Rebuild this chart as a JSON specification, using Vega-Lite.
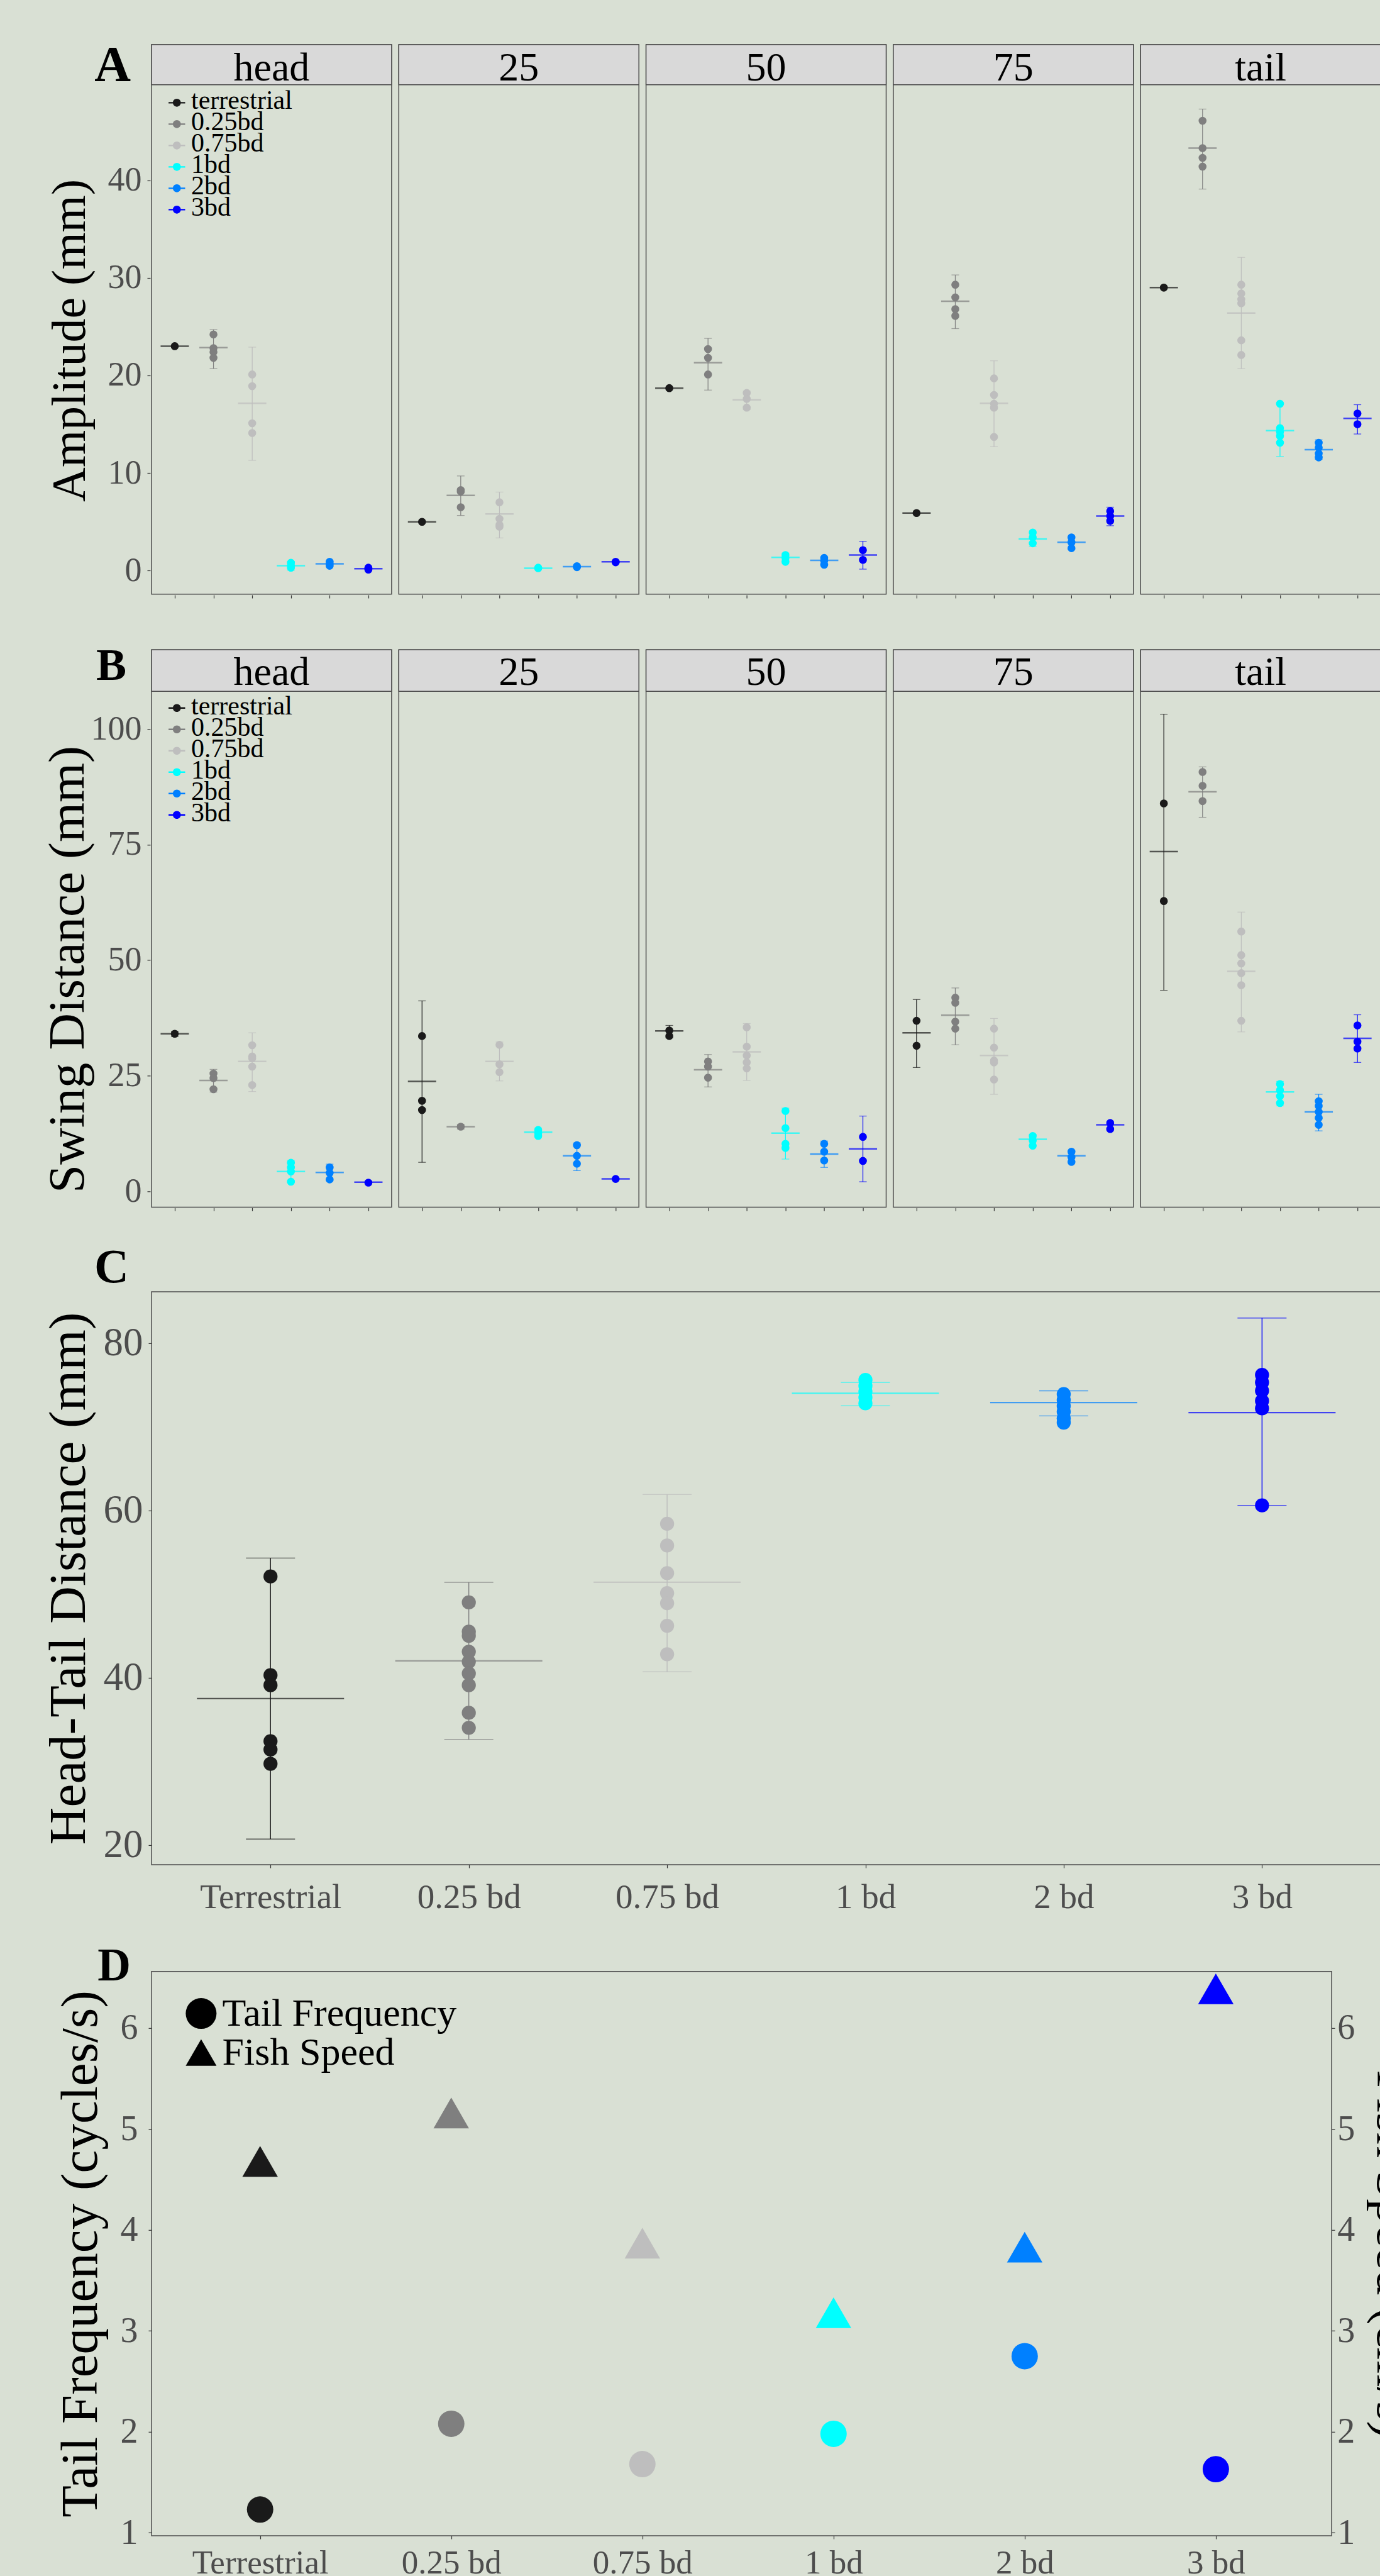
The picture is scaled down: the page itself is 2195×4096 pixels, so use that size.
{
"$schema":"https://vega.github.io/schema/vega-lite/v6.json",
"background":"#D9E0D4",
"padding":{"left":67,"top":64,"right":0,"bottom":5},
"config":{
 "font":"Liberation Serif",
 "view":{"stroke":"#4D4D4D","strokeWidth":1.5},
 "axis":{"grid":false,"domain":false,"tickColor":"#333333","tickSize":5,"tickWidth":1.2,"labelFont":"Liberation Serif","labelColor":"#4D4D4D","titleFont":"Liberation Serif","titleColor":"#000000","titleFontWeight":"normal","labelLimit":1000},
 "legend":{"labelFont":"Liberation Serif","labelColor":"#000000","padding":0,"labelLimit":2000},
 "title":{"font":"Liberation Serif","color":"#000000","fontWeight":"bold"}
},
"datasets":{
"A":[
{"s":"head","g":"terrestrial","v":23.0},
{"s":"head","g":"0.25bd","v":24.2},{"s":"head","g":"0.25bd","v":22.8},{"s":"head","g":"0.25bd","v":22.4},{"s":"head","g":"0.25bd","v":21.8},
{"s":"head","g":"0.75bd","v":20.1},{"s":"head","g":"0.75bd","v":18.9},{"s":"head","g":"0.75bd","v":15.1},{"s":"head","g":"0.75bd","v":14.1},
{"s":"head","g":"1bd","v":0.8},{"s":"head","g":"1bd","v":0.5},{"s":"head","g":"1bd","v":0.3},
{"s":"head","g":"2bd","v":0.9},{"s":"head","g":"2bd","v":0.7},{"s":"head","g":"2bd","v":0.5},
{"s":"head","g":"3bd","v":0.3},{"s":"head","g":"3bd","v":0.2},{"s":"head","g":"3bd","v":0.1},
{"s":"25","g":"terrestrial","v":5.0},
{"s":"25","g":"0.25bd","v":8.25},{"s":"25","g":"0.25bd","v":8.1},{"s":"25","g":"0.25bd","v":6.5},
{"s":"25","g":"0.75bd","v":7.0},{"s":"25","g":"0.75bd","v":5.3},{"s":"25","g":"0.75bd","v":4.7},{"s":"25","g":"0.75bd","v":4.5},
{"s":"25","g":"1bd","v":0.25},{"s":"25","g":"1bd","v":0.3},
{"s":"25","g":"2bd","v":0.45},{"s":"25","g":"2bd","v":0.35},
{"s":"25","g":"3bd","v":0.9},{"s":"25","g":"3bd","v":0.85},
{"s":"50","g":"terrestrial","v":18.7},
{"s":"50","g":"0.25bd","v":22.7},{"s":"50","g":"0.25bd","v":21.8},{"s":"50","g":"0.25bd","v":20.1},
{"s":"50","g":"0.75bd","v":18.2},{"s":"50","g":"0.75bd","v":17.6},{"s":"50","g":"0.75bd","v":16.7},
{"s":"50","g":"1bd","v":1.6},{"s":"50","g":"1bd","v":1.3},{"s":"50","g":"1bd","v":0.9},
{"s":"50","g":"2bd","v":1.3},{"s":"50","g":"2bd","v":1.0},{"s":"50","g":"2bd","v":0.6},
{"s":"50","g":"3bd","v":2.1},{"s":"50","g":"3bd","v":1.1},
{"s":"75","g":"terrestrial","v":5.9},
{"s":"75","g":"0.25bd","v":29.3},{"s":"75","g":"0.25bd","v":28.0},{"s":"75","g":"0.25bd","v":26.8},{"s":"75","g":"0.25bd","v":26.1},
{"s":"75","g":"0.75bd","v":19.7},{"s":"75","g":"0.75bd","v":18.0},{"s":"75","g":"0.75bd","v":17.1},{"s":"75","g":"0.75bd","v":16.7},{"s":"75","g":"0.75bd","v":13.7},
{"s":"75","g":"1bd","v":3.9},{"s":"75","g":"1bd","v":3.4},{"s":"75","g":"1bd","v":2.8},
{"s":"75","g":"2bd","v":3.4},{"s":"75","g":"2bd","v":2.9},{"s":"75","g":"2bd","v":2.3},
{"s":"75","g":"3bd","v":6.1},{"s":"75","g":"3bd","v":5.6},{"s":"75","g":"3bd","v":5.1},
{"s":"tail","g":"terrestrial","v":29.0},
{"s":"tail","g":"0.25bd","v":46.1},{"s":"tail","g":"0.25bd","v":43.3},{"s":"tail","g":"0.25bd","v":42.3},{"s":"tail","g":"0.25bd","v":41.4},
{"s":"tail","g":"0.75bd","v":29.3},{"s":"tail","g":"0.75bd","v":28.4},{"s":"tail","g":"0.75bd","v":27.8},{"s":"tail","g":"0.75bd","v":27.4},{"s":"tail","g":"0.75bd","v":23.6},{"s":"tail","g":"0.75bd","v":22.1},
{"s":"tail","g":"1bd","v":17.1},{"s":"tail","g":"1bd","v":14.6},{"s":"tail","g":"1bd","v":14.2},{"s":"tail","g":"1bd","v":13.8},{"s":"tail","g":"1bd","v":13.1},
{"s":"tail","g":"2bd","v":13.1},{"s":"tail","g":"2bd","v":12.6},{"s":"tail","g":"2bd","v":12.0},{"s":"tail","g":"2bd","v":11.6},
{"s":"tail","g":"3bd","v":16.1},{"s":"tail","g":"3bd","v":15.0},
{"s":"head","g":"terrestrial","m":23.0,"lo":23.0,"hi":23.0},{"s":"head","g":"0.25bd","m":22.85,"lo":20.7,"hi":24.7},{"s":"head","g":"0.75bd","m":17.15,"lo":11.3,"hi":22.9},{"s":"head","g":"1bd","m":0.5,"lo":0.05,"hi":0.95},{"s":"head","g":"2bd","m":0.7,"lo":0.45,"hi":0.95},{"s":"head","g":"3bd","m":0.2,"lo":0.1,"hi":0.3},
{"s":"25","g":"terrestrial","m":5.0,"lo":5.0,"hi":5.0},{"s":"25","g":"0.25bd","m":7.7,"lo":5.65,"hi":9.7},{"s":"25","g":"0.75bd","m":5.8,"lo":3.35,"hi":8.05},{"s":"25","g":"1bd","m":0.25,"lo":0.15,"hi":0.35},{"s":"25","g":"2bd","m":0.4,"lo":0.3,"hi":0.5},{"s":"25","g":"3bd","m":0.9,"lo":0.8,"hi":1.0},
{"s":"50","g":"terrestrial","m":18.7,"lo":18.7,"hi":18.7},{"s":"50","g":"0.25bd","m":21.3,"lo":18.5,"hi":23.8},{"s":"50","g":"0.75bd","m":17.5,"lo":16.5,"hi":18.4},{"s":"50","g":"1bd","m":1.35,"lo":0.9,"hi":1.8},{"s":"50","g":"2bd","m":1.05,"lo":0.6,"hi":1.4},{"s":"50","g":"3bd","m":1.6,"lo":0.15,"hi":3.0},
{"s":"75","g":"terrestrial","m":5.9,"lo":5.9,"hi":5.9},{"s":"75","g":"0.25bd","m":27.6,"lo":24.8,"hi":30.3},{"s":"75","g":"0.75bd","m":17.15,"lo":12.7,"hi":21.5},{"s":"75","g":"1bd","m":3.25,"lo":2.5,"hi":4.05},{"s":"75","g":"2bd","m":2.9,"lo":2.2,"hi":3.5},{"s":"75","g":"3bd","m":5.6,"lo":4.6,"hi":6.5},
{"s":"tail","g":"terrestrial","m":29.0,"lo":29.0,"hi":29.0},{"s":"tail","g":"0.25bd","m":43.3,"lo":39.1,"hi":47.3},{"s":"tail","g":"0.75bd","m":26.4,"lo":20.7,"hi":32.1},{"s":"tail","g":"1bd","m":14.35,"lo":11.7,"hi":17.1},{"s":"tail","g":"2bd","m":12.4,"lo":11.4,"hi":13.4},{"s":"tail","g":"3bd","m":15.6,"lo":14.0,"hi":17.0}
],
"B":[
{"s":"head","g":"terrestrial","v":34.1},
{"s":"head","g":"0.25bd","v":25.5},{"s":"head","g":"0.25bd","v":24.5},{"s":"head","g":"0.25bd","v":22.1},
{"s":"head","g":"0.75bd","v":31.6},{"s":"head","g":"0.75bd","v":29.2},{"s":"head","g":"0.75bd","v":28.8},{"s":"head","g":"0.75bd","v":27.0},{"s":"head","g":"0.75bd","v":23.0},
{"s":"head","g":"1bd","v":6.2},{"s":"head","g":"1bd","v":5.2},{"s":"head","g":"1bd","v":4.3},{"s":"head","g":"1bd","v":2.1},
{"s":"head","g":"2bd","v":5.2},{"s":"head","g":"2bd","v":4.0},{"s":"head","g":"2bd","v":2.6},
{"s":"head","g":"3bd","v":1.9},
{"s":"25","g":"terrestrial","v":33.6},{"s":"25","g":"terrestrial","v":19.6},{"s":"25","g":"terrestrial","v":17.6},
{"s":"25","g":"0.25bd","v":14.0},
{"s":"25","g":"0.75bd","v":31.7},{"s":"25","g":"0.75bd","v":27.5},{"s":"25","g":"0.75bd","v":25.8},
{"s":"25","g":"1bd","v":13.3},{"s":"25","g":"1bd","v":12.6},{"s":"25","g":"1bd","v":12.0},
{"s":"25","g":"2bd","v":10.0},{"s":"25","g":"2bd","v":7.7},{"s":"25","g":"2bd","v":6.0},
{"s":"25","g":"3bd","v":2.7},
{"s":"50","g":"terrestrial","v":34.8},{"s":"50","g":"terrestrial","v":33.6},
{"s":"50","g":"0.25bd","v":28.1},{"s":"50","g":"0.25bd","v":27.0},{"s":"50","g":"0.25bd","v":24.6},
{"s":"50","g":"0.75bd","v":35.5},{"s":"50","g":"0.75bd","v":31.3},{"s":"50","g":"0.75bd","v":29.4},{"s":"50","g":"0.75bd","v":27.9},{"s":"50","g":"0.75bd","v":26.6},
{"s":"50","g":"1bd","v":17.4},{"s":"50","g":"1bd","v":13.7},{"s":"50","g":"1bd","v":10.3},{"s":"50","g":"1bd","v":9.4},
{"s":"50","g":"2bd","v":10.3},{"s":"50","g":"2bd","v":8.6},{"s":"50","g":"2bd","v":6.7},
{"s":"50","g":"3bd","v":11.8},{"s":"50","g":"3bd","v":6.6},
{"s":"75","g":"terrestrial","v":36.9},{"s":"75","g":"terrestrial","v":31.5},
{"s":"75","g":"0.25bd","v":41.9},{"s":"75","g":"0.25bd","v":40.8},{"s":"75","g":"0.25bd","v":36.7},{"s":"75","g":"0.25bd","v":35.2},
{"s":"75","g":"0.75bd","v":35.2},{"s":"75","g":"0.75bd","v":31.1},{"s":"75","g":"0.75bd","v":28.3},{"s":"75","g":"0.75bd","v":27.9},{"s":"75","g":"0.75bd","v":24.2},
{"s":"75","g":"1bd","v":12.0},{"s":"75","g":"1bd","v":11.0},{"s":"75","g":"1bd","v":9.9},
{"s":"75","g":"2bd","v":8.6},{"s":"75","g":"2bd","v":7.4},{"s":"75","g":"2bd","v":6.4},
{"s":"75","g":"3bd","v":14.8},{"s":"75","g":"3bd","v":13.5},
{"s":"tail","g":"terrestrial","v":83.9},{"s":"tail","g":"terrestrial","v":62.8},
{"s":"tail","g":"0.25bd","v":90.7},{"s":"tail","g":"0.25bd","v":87.7},{"s":"tail","g":"0.25bd","v":84.4},
{"s":"tail","g":"0.75bd","v":56.2},{"s":"tail","g":"0.75bd","v":51.1},{"s":"tail","g":"0.75bd","v":49.3},{"s":"tail","g":"0.75bd","v":47.2},{"s":"tail","g":"0.75bd","v":44.6},{"s":"tail","g":"0.75bd","v":36.9},
{"s":"tail","g":"1bd","v":23.2},{"s":"tail","g":"1bd","v":21.9},{"s":"tail","g":"1bd","v":20.6},{"s":"tail","g":"1bd","v":19.1},
{"s":"tail","g":"2bd","v":19.5},{"s":"tail","g":"2bd","v":18.5},{"s":"tail","g":"2bd","v":17.2},{"s":"tail","g":"2bd","v":15.9},{"s":"tail","g":"2bd","v":14.4},
{"s":"tail","g":"3bd","v":35.9},{"s":"tail","g":"3bd","v":32.4},{"s":"tail","g":"3bd","v":30.9},
{"s":"head","g":"terrestrial","m":34.1,"lo":33.5,"hi":34.6},{"s":"head","g":"0.25bd","m":24.0,"lo":21.5,"hi":26.4},{"s":"head","g":"0.75bd","m":28.1,"lo":21.6,"hi":34.3},{"s":"head","g":"1bd","m":4.3,"lo":1.9,"hi":6.7},{"s":"head","g":"2bd","m":4.1,"lo":2.3,"hi":5.9},{"s":"head","g":"3bd","m":2.0,"lo":1.8,"hi":2.2},
{"s":"25","g":"terrestrial","m":23.8,"lo":6.3,"hi":41.2},{"s":"25","g":"0.25bd","m":14.0,"lo":13.5,"hi":14.5},{"s":"25","g":"0.75bd","m":28.1,"lo":23.9,"hi":32.3},{"s":"25","g":"1bd","m":12.8,"lo":11.9,"hi":13.7},{"s":"25","g":"2bd","m":7.7,"lo":4.5,"hi":10.5},{"s":"25","g":"3bd","m":2.7,"lo":2.5,"hi":2.9},
{"s":"50","g":"terrestrial","m":34.7,"lo":33.2,"hi":35.9},{"s":"50","g":"0.25bd","m":26.3,"lo":22.6,"hi":29.6},{"s":"50","g":"0.75bd","m":30.2,"lo":24.0,"hi":36.3},{"s":"50","g":"1bd","m":12.6,"lo":7.0,"hi":18.0},{"s":"50","g":"2bd","m":8.1,"lo":5.2,"hi":10.9},{"s":"50","g":"3bd","m":9.2,"lo":2.1,"hi":16.3},
{"s":"75","g":"terrestrial","m":34.3,"lo":26.8,"hi":41.5},{"s":"75","g":"0.25bd","m":38.1,"lo":31.7,"hi":44.0},{"s":"75","g":"0.75bd","m":29.4,"lo":21.0,"hi":37.4},{"s":"75","g":"1bd","m":11.3,"lo":9.9,"hi":12.3},{"s":"75","g":"2bd","m":7.7,"lo":6.4,"hi":8.6},{"s":"75","g":"3bd","m":14.4,"lo":13.5,"hi":15.2},
{"s":"tail","g":"terrestrial","m":73.5,"lo":43.5,"hi":103.2},{"s":"tail","g":"0.25bd","m":86.4,"lo":80.9,"hi":91.8},{"s":"tail","g":"0.75bd","m":47.6,"lo":34.5,"hi":60.4},{"s":"tail","g":"1bd","m":21.5,"lo":18.5,"hi":23.8},{"s":"tail","g":"2bd","m":17.2,"lo":13.1,"hi":21.0},{"s":"tail","g":"3bd","m":33.1,"lo":27.9,"hi":38.2}
],
"C":[
{"g":"Terrestrial","v":52.1},{"g":"Terrestrial","v":40.3},{"g":"Terrestrial","v":39.1},{"g":"Terrestrial","v":32.4},{"g":"Terrestrial","v":31.4},{"g":"Terrestrial","v":29.7},
{"g":"0.25 bd","v":49.0},{"g":"0.25 bd","v":45.5},{"g":"0.25 bd","v":45.0},{"g":"0.25 bd","v":43.1},{"g":"0.25 bd","v":41.9},{"g":"0.25 bd","v":40.5},{"g":"0.25 bd","v":39.1},{"g":"0.25 bd","v":35.8},{"g":"0.25 bd","v":34.0},
{"g":"0.75 bd","v":58.4},{"g":"0.75 bd","v":55.8},{"g":"0.75 bd","v":52.5},{"g":"0.75 bd","v":50.1},{"g":"0.75 bd","v":48.9},{"g":"0.75 bd","v":46.2},{"g":"0.75 bd","v":42.8},
{"g":"1 bd","v":75.6},{"g":"1 bd","v":74.9},{"g":"1 bd","v":74.2},{"g":"1 bd","v":73.5},{"g":"1 bd","v":72.8},
{"g":"2 bd","v":73.9},{"g":"2 bd","v":73.2},{"g":"2 bd","v":72.5},{"g":"2 bd","v":71.8},{"g":"2 bd","v":71.0},{"g":"2 bd","v":70.5},
{"g":"3 bd","v":76.2},{"g":"3 bd","v":75.3},{"g":"3 bd","v":74.3},{"g":"3 bd","v":73.1},{"g":"3 bd","v":72.2},{"g":"3 bd","v":60.6},
{"g":"Terrestrial","m":37.5,"lo":20.7,"hi":54.3},{"g":"0.25 bd","m":42.0,"lo":32.6,"hi":51.4},{"g":"0.75 bd","m":51.4,"lo":40.7,"hi":61.9},{"g":"1 bd","m":74.0,"lo":72.5,"hi":75.3},{"g":"2 bd","m":72.9,"lo":71.3,"hi":74.3},{"g":"3 bd","m":71.7,"lo":60.6,"hi":83.0}
],
"D":[
{"g":"Terrestrial","f":1.23,"sp":4.68},{"g":"0.25 bd","f":2.08,"sp":5.16},{"g":"0.75 bd","f":1.68,"sp":3.87},{"g":"1 bd","f":1.98,"sp":3.18},{"g":"2 bd","f":2.75,"sp":3.83},{"g":"3 bd","f":1.63,"sp":6.39}
]
},
"spacing":70.35,
"resolve":{"scale":{"x":"independent","y":"independent","color":"independent","shape":"independent"},"legend":{"color":"independent","shape":"independent"}},
"vconcat":[
{
 "data":{"name":"A"},
 "title":{"text":"A","anchor":"start","frame":"group","align":"right","baseline":"alphabetic","offset":0,"dx":-33,"dy":139,"fontSize":80},
 "facet":{"column":{"field":"s","type":"nominal","sort":["head","25","50","75","tail"],"header":null}},
 "spacing":{"column":7.3},
 "spec":{
  "width":381.9,"height":873.7,
  "layer":[
   {"transform":[{"filter":"isValid(datum.m) && datum.g == 'terrestrial'"}],
    "mark":{"type":"rect","fill":"#D9D9D9","stroke":"#4D4D4D","strokeWidth":1.5},
    "encoding":{"y":{"datum":49.79,"type":"quantitative","scale":{"domain":[-2.41,53.9],"nice":false,"zero":false},"axis":{"values":[0,10,20,30,40],"title":"Amplitude (mm)","titleFontSize":76,"titleX":-105,"titleY":470,"titleBaseline":"alphabetic","titleAngle":-90,"titleAlign":"center","labelFontSize":54,"labelPadding":9}},"y2":{"datum":53.9}}},
   {"transform":[{"filter":"isValid(datum.m) && datum.g == 'terrestrial'"}],
    "mark":{"type":"text","fontSize":64,"baseline":"alphabetic","color":"#000000","font":"Liberation Serif"},
    "encoding":{"y":{"datum":50.2,"type":"quantitative","scale":{"domain":[-2.41,53.9],"nice":false,"zero":false},"axis":{"values":[0,10,20,30,40],"title":"Amplitude (mm)","titleFontSize":76,"titleX":-105,"titleY":470,"titleBaseline":"alphabetic","titleAngle":-90,"titleAlign":"center","labelFontSize":54,"labelPadding":9}},"text":{"field":"s","type":"nominal"}}},
   {"transform":[{"filter":"isValid(datum.m)"}],
    "mark":{"type":"rule","strokeWidth":1.2},
    "encoding":{
     "x":{"field":"g","type":"nominal","scale":{"type":"point","domain":["terrestrial","0.25bd","0.75bd","1bd","2bd","3bd"],"padding":0.6},"axis":{"labels":false,"title":null,"ticks":true,"tickSize":5}},
     "y":{"field":"lo","type":"quantitative","scale":{"domain":[-2.41,53.9],"nice":false,"zero":false},"axis":{"values":[0,10,20,30,40],"title":"Amplitude (mm)","titleFontSize":76,"titleX":-105,"titleY":470,"titleBaseline":"alphabetic","titleAngle":-90,"titleAlign":"center","labelFontSize":54,"labelPadding":9}},"y2":{"field":"hi"},
     "color":{"field":"g","type":"nominal","scale":{"domain":["terrestrial","0.25bd","0.75bd","1bd","2bd","3bd"],"range":["#1A1A1A","#7F7F7F","#BEBEBE","#00FFFF","#0080FF","#0000FF"]},
      "legend":{"orient":"none","legendX":19.3,"legendY":81.4,"title":null,"symbolType":"M-1,-0.85L1,-0.85L1,-0.67L-1,-0.67ZM0.48,-0.76A0.48,0.48,0,1,1,-0.48,-0.76A0.48,0.48,0,1,1,0.48,-0.76Z","symbolSize":697,"symbolStrokeWidth":0,"symbolOpacity":1,"labelFontSize":42,"labelBaseline":"alphabetic","rowPadding":-8,"labelOffset":1.7}}}},
   {"transform":[{"filter":"isValid(datum.m)"}],
    "mark":{"type":"tick","orient":"horizontal","size":12,"thickness":1.2},
    "encoding":{
     "x":{"field":"g","type":"nominal","scale":{"type":"point","domain":["terrestrial","0.25bd","0.75bd","1bd","2bd","3bd"],"padding":0.6},"axis":{"labels":false,"title":null,"ticks":true,"tickSize":5}},
     "y":{"field":"lo","type":"quantitative","scale":{"domain":[-2.41,53.9],"nice":false,"zero":false},"axis":{"values":[0,10,20,30,40],"title":"Amplitude (mm)","titleFontSize":76,"titleX":-105,"titleY":470,"titleBaseline":"alphabetic","titleAngle":-90,"titleAlign":"center","labelFontSize":54,"labelPadding":9}},
     "color":{"field":"g","type":"nominal","scale":{"domain":["terrestrial","0.25bd","0.75bd","1bd","2bd","3bd"],"range":["#1A1A1A","#7F7F7F","#BEBEBE","#00FFFF","#0080FF","#0000FF"]},
      "legend":{"orient":"none","legendX":19.3,"legendY":81.4,"title":null,"symbolType":"M-1,-0.85L1,-0.85L1,-0.67L-1,-0.67ZM0.48,-0.76A0.48,0.48,0,1,1,-0.48,-0.76A0.48,0.48,0,1,1,0.48,-0.76Z","symbolSize":697,"symbolStrokeWidth":0,"symbolOpacity":1,"labelFontSize":42,"labelBaseline":"alphabetic","rowPadding":-8,"labelOffset":1.7}}}},
   {"transform":[{"filter":"isValid(datum.m)"}],
    "mark":{"type":"tick","orient":"horizontal","size":12,"thickness":1.2},
    "encoding":{
     "x":{"field":"g","type":"nominal","scale":{"type":"point","domain":["terrestrial","0.25bd","0.75bd","1bd","2bd","3bd"],"padding":0.6},"axis":{"labels":false,"title":null,"ticks":true,"tickSize":5}},
     "y":{"field":"hi","type":"quantitative","scale":{"domain":[-2.41,53.9],"nice":false,"zero":false},"axis":{"values":[0,10,20,30,40],"title":"Amplitude (mm)","titleFontSize":76,"titleX":-105,"titleY":470,"titleBaseline":"alphabetic","titleAngle":-90,"titleAlign":"center","labelFontSize":54,"labelPadding":9}},
     "color":{"field":"g","type":"nominal","scale":{"domain":["terrestrial","0.25bd","0.75bd","1bd","2bd","3bd"],"range":["#1A1A1A","#7F7F7F","#BEBEBE","#00FFFF","#0080FF","#0000FF"]},
      "legend":{"orient":"none","legendX":19.3,"legendY":81.4,"title":null,"symbolType":"M-1,-0.85L1,-0.85L1,-0.67L-1,-0.67ZM0.48,-0.76A0.48,0.48,0,1,1,-0.48,-0.76A0.48,0.48,0,1,1,0.48,-0.76Z","symbolSize":697,"symbolStrokeWidth":0,"symbolOpacity":1,"labelFontSize":42,"labelBaseline":"alphabetic","rowPadding":-8,"labelOffset":1.7}}}},
   {"transform":[{"filter":"isValid(datum.m)"}],
    "mark":{"type":"tick","orient":"horizontal","size":45,"thickness":2.5},
    "encoding":{
     "x":{"field":"g","type":"nominal","scale":{"type":"point","domain":["terrestrial","0.25bd","0.75bd","1bd","2bd","3bd"],"padding":0.6},"axis":{"labels":false,"title":null,"ticks":true,"tickSize":5}},
     "y":{"field":"m","type":"quantitative","scale":{"domain":[-2.41,53.9],"nice":false,"zero":false},"axis":{"values":[0,10,20,30,40],"title":"Amplitude (mm)","titleFontSize":76,"titleX":-105,"titleY":470,"titleBaseline":"alphabetic","titleAngle":-90,"titleAlign":"center","labelFontSize":54,"labelPadding":9}},
     "color":{"field":"g","type":"nominal","scale":{"domain":["terrestrial","0.25bd","0.75bd","1bd","2bd","3bd"],"range":["#1A1A1A","#7F7F7F","#BEBEBE","#00FFFF","#0080FF","#0000FF"]},
      "legend":{"orient":"none","legendX":19.3,"legendY":81.4,"title":null,"symbolType":"M-1,-0.85L1,-0.85L1,-0.67L-1,-0.67ZM0.48,-0.76A0.48,0.48,0,1,1,-0.48,-0.76A0.48,0.48,0,1,1,0.48,-0.76Z","symbolSize":697,"symbolStrokeWidth":0,"symbolOpacity":1,"labelFontSize":42,"labelBaseline":"alphabetic","rowPadding":-8,"labelOffset":1.7}}}},
   {"transform":[{"filter":"isValid(datum.v)"}],
    "mark":{"type":"circle","size":160,"opacity":1},
    "encoding":{
     "x":{"field":"g","type":"nominal","scale":{"type":"point","domain":["terrestrial","0.25bd","0.75bd","1bd","2bd","3bd"],"padding":0.6},"axis":{"labels":false,"title":null,"ticks":true,"tickSize":5}},
     "y":{"field":"v","type":"quantitative","scale":{"domain":[-2.41,53.9],"nice":false,"zero":false},"axis":{"values":[0,10,20,30,40],"title":"Amplitude (mm)","titleFontSize":76,"titleX":-105,"titleY":470,"titleBaseline":"alphabetic","titleAngle":-90,"titleAlign":"center","labelFontSize":54,"labelPadding":9}},
     "color":{"field":"g","type":"nominal","scale":{"domain":["terrestrial","0.25bd","0.75bd","1bd","2bd","3bd"],"range":["#1A1A1A","#7F7F7F","#BEBEBE","#00FFFF","#0080FF","#0000FF"]},
      "legend":{"orient":"none","legendX":19.3,"legendY":81.4,"title":null,"symbolType":"M-1,-0.85L1,-0.85L1,-0.67L-1,-0.67ZM0.48,-0.76A0.48,0.48,0,1,1,-0.48,-0.76A0.48,0.48,0,1,1,0.48,-0.76Z","symbolSize":697,"symbolStrokeWidth":0,"symbolOpacity":1,"labelFontSize":42,"labelBaseline":"alphabetic","rowPadding":-8,"labelOffset":1.7}}}}
  ]
 }
},
{
 "spacing":50.55,
 "resolve":{"scale":{"x":"independent","y":"independent","color":"independent","shape":"independent"},"legend":{"color":"independent","shape":"independent"}},
 "vconcat":[
 {
 "data":{"name":"B"},
 "title":{"text":"B","anchor":"start","frame":"group","align":"right","baseline":"alphabetic","offset":0,"dx":-40,"dy":121,"fontSize":72},
 "facet":{"column":{"field":"s","type":"nominal","sort":["head","25","50","75","tail"],"header":null}},
 "spacing":{"column":7.3},
 "spec":{
  "width":381.9,"height":886.2,
  "layer":[
   {"transform":[{"filter":"isValid(datum.m) && datum.g == 'terrestrial'"}],
    "mark":{"type":"rect","fill":"#D9D9D9","stroke":"#4D4D4D","strokeWidth":1.5},
    "encoding":{"y":{"datum":108.15,"type":"quantitative","scale":{"domain":[-3.41,117.1],"nice":false,"zero":false},"axis":{"values":[0,25,50,75,100],"title":"Swing Distance (mm)","titleFontSize":81,"titleX":-106.6,"titleY":507.6,"titleBaseline":"alphabetic","titleAngle":-90,"titleAlign":"center","labelFontSize":54,"labelPadding":9}},"y2":{"datum":117.1}}},
   {"transform":[{"filter":"isValid(datum.m) && datum.g == 'terrestrial'"}],
    "mark":{"type":"text","fontSize":64,"baseline":"alphabetic","color":"#000000","font":"Liberation Serif"},
    "encoding":{"y":{"datum":109.6,"type":"quantitative","scale":{"domain":[-3.41,117.1],"nice":false,"zero":false},"axis":{"values":[0,25,50,75,100],"title":"Swing Distance (mm)","titleFontSize":81,"titleX":-106.6,"titleY":507.6,"titleBaseline":"alphabetic","titleAngle":-90,"titleAlign":"center","labelFontSize":54,"labelPadding":9}},"text":{"field":"s","type":"nominal"}}},
   {"transform":[{"filter":"isValid(datum.m)"}],
    "mark":{"type":"rule","strokeWidth":1.2},
    "encoding":{
     "x":{"field":"g","type":"nominal","scale":{"type":"point","domain":["terrestrial","0.25bd","0.75bd","1bd","2bd","3bd"],"padding":0.6},"axis":{"labels":false,"title":null,"ticks":true,"tickSize":5}},
     "y":{"field":"lo","type":"quantitative","scale":{"domain":[-3.41,117.1],"nice":false,"zero":false},"axis":{"values":[0,25,50,75,100],"title":"Swing Distance (mm)","titleFontSize":81,"titleX":-106.6,"titleY":507.6,"titleBaseline":"alphabetic","titleAngle":-90,"titleAlign":"center","labelFontSize":54,"labelPadding":9}},"y2":{"field":"hi"},
     "color":{"field":"g","type":"nominal","scale":{"domain":["terrestrial","0.25bd","0.75bd","1bd","2bd","3bd"],"range":["#1A1A1A","#7F7F7F","#BEBEBE","#00FFFF","#0080FF","#0000FF"]},
      "legend":{"orient":"none","legendX":19.3,"legendY":81.4,"title":null,"symbolType":"M-1,-0.85L1,-0.85L1,-0.67L-1,-0.67ZM0.48,-0.76A0.48,0.48,0,1,1,-0.48,-0.76A0.48,0.48,0,1,1,0.48,-0.76Z","symbolSize":697,"symbolStrokeWidth":0,"symbolOpacity":1,"labelFontSize":42,"labelBaseline":"alphabetic","rowPadding":-8,"labelOffset":1.7}}}},
   {"transform":[{"filter":"isValid(datum.m)"}],
    "mark":{"type":"tick","orient":"horizontal","size":12,"thickness":1.2},
    "encoding":{
     "x":{"field":"g","type":"nominal","scale":{"type":"point","domain":["terrestrial","0.25bd","0.75bd","1bd","2bd","3bd"],"padding":0.6},"axis":{"labels":false,"title":null,"ticks":true,"tickSize":5}},
     "y":{"field":"lo","type":"quantitative","scale":{"domain":[-3.41,117.1],"nice":false,"zero":false},"axis":{"values":[0,25,50,75,100],"title":"Swing Distance (mm)","titleFontSize":81,"titleX":-106.6,"titleY":507.6,"titleBaseline":"alphabetic","titleAngle":-90,"titleAlign":"center","labelFontSize":54,"labelPadding":9}},
     "color":{"field":"g","type":"nominal","scale":{"domain":["terrestrial","0.25bd","0.75bd","1bd","2bd","3bd"],"range":["#1A1A1A","#7F7F7F","#BEBEBE","#00FFFF","#0080FF","#0000FF"]},
      "legend":{"orient":"none","legendX":19.3,"legendY":81.4,"title":null,"symbolType":"M-1,-0.85L1,-0.85L1,-0.67L-1,-0.67ZM0.48,-0.76A0.48,0.48,0,1,1,-0.48,-0.76A0.48,0.48,0,1,1,0.48,-0.76Z","symbolSize":697,"symbolStrokeWidth":0,"symbolOpacity":1,"labelFontSize":42,"labelBaseline":"alphabetic","rowPadding":-8,"labelOffset":1.7}}}},
   {"transform":[{"filter":"isValid(datum.m)"}],
    "mark":{"type":"tick","orient":"horizontal","size":12,"thickness":1.2},
    "encoding":{
     "x":{"field":"g","type":"nominal","scale":{"type":"point","domain":["terrestrial","0.25bd","0.75bd","1bd","2bd","3bd"],"padding":0.6},"axis":{"labels":false,"title":null,"ticks":true,"tickSize":5}},
     "y":{"field":"hi","type":"quantitative","scale":{"domain":[-3.41,117.1],"nice":false,"zero":false},"axis":{"values":[0,25,50,75,100],"title":"Swing Distance (mm)","titleFontSize":81,"titleX":-106.6,"titleY":507.6,"titleBaseline":"alphabetic","titleAngle":-90,"titleAlign":"center","labelFontSize":54,"labelPadding":9}},
     "color":{"field":"g","type":"nominal","scale":{"domain":["terrestrial","0.25bd","0.75bd","1bd","2bd","3bd"],"range":["#1A1A1A","#7F7F7F","#BEBEBE","#00FFFF","#0080FF","#0000FF"]},
      "legend":{"orient":"none","legendX":19.3,"legendY":81.4,"title":null,"symbolType":"M-1,-0.85L1,-0.85L1,-0.67L-1,-0.67ZM0.48,-0.76A0.48,0.48,0,1,1,-0.48,-0.76A0.48,0.48,0,1,1,0.48,-0.76Z","symbolSize":697,"symbolStrokeWidth":0,"symbolOpacity":1,"labelFontSize":42,"labelBaseline":"alphabetic","rowPadding":-8,"labelOffset":1.7}}}},
   {"transform":[{"filter":"isValid(datum.m)"}],
    "mark":{"type":"tick","orient":"horizontal","size":45,"thickness":2.5},
    "encoding":{
     "x":{"field":"g","type":"nominal","scale":{"type":"point","domain":["terrestrial","0.25bd","0.75bd","1bd","2bd","3bd"],"padding":0.6},"axis":{"labels":false,"title":null,"ticks":true,"tickSize":5}},
     "y":{"field":"m","type":"quantitative","scale":{"domain":[-3.41,117.1],"nice":false,"zero":false},"axis":{"values":[0,25,50,75,100],"title":"Swing Distance (mm)","titleFontSize":81,"titleX":-106.6,"titleY":507.6,"titleBaseline":"alphabetic","titleAngle":-90,"titleAlign":"center","labelFontSize":54,"labelPadding":9}},
     "color":{"field":"g","type":"nominal","scale":{"domain":["terrestrial","0.25bd","0.75bd","1bd","2bd","3bd"],"range":["#1A1A1A","#7F7F7F","#BEBEBE","#00FFFF","#0080FF","#0000FF"]},
      "legend":{"orient":"none","legendX":19.3,"legendY":81.4,"title":null,"symbolType":"M-1,-0.85L1,-0.85L1,-0.67L-1,-0.67ZM0.48,-0.76A0.48,0.48,0,1,1,-0.48,-0.76A0.48,0.48,0,1,1,0.48,-0.76Z","symbolSize":697,"symbolStrokeWidth":0,"symbolOpacity":1,"labelFontSize":42,"labelBaseline":"alphabetic","rowPadding":-8,"labelOffset":1.7}}}},
   {"transform":[{"filter":"isValid(datum.v)"}],
    "mark":{"type":"circle","size":160,"opacity":1},
    "encoding":{
     "x":{"field":"g","type":"nominal","scale":{"type":"point","domain":["terrestrial","0.25bd","0.75bd","1bd","2bd","3bd"],"padding":0.6},"axis":{"labels":false,"title":null,"ticks":true,"tickSize":5}},
     "y":{"field":"v","type":"quantitative","scale":{"domain":[-3.41,117.1],"nice":false,"zero":false},"axis":{"values":[0,25,50,75,100],"title":"Swing Distance (mm)","titleFontSize":81,"titleX":-106.6,"titleY":507.6,"titleBaseline":"alphabetic","titleAngle":-90,"titleAlign":"center","labelFontSize":54,"labelPadding":9}},
     "color":{"field":"g","type":"nominal","scale":{"domain":["terrestrial","0.25bd","0.75bd","1bd","2bd","3bd"],"range":["#1A1A1A","#7F7F7F","#BEBEBE","#00FFFF","#0080FF","#0000FF"]},
      "legend":{"orient":"none","legendX":19.3,"legendY":81.4,"title":null,"symbolType":"M-1,-0.85L1,-0.85L1,-0.67L-1,-0.67ZM0.48,-0.76A0.48,0.48,0,1,1,-0.48,-0.76A0.48,0.48,0,1,1,0.48,-0.76Z","symbolSize":697,"symbolStrokeWidth":0,"symbolOpacity":1,"labelFontSize":42,"labelBaseline":"alphabetic","rowPadding":-8,"labelOffset":1.7}}}}
  ]
 }
 },
 {
  "spacing":44.9,
  "resolve":{"scale":{"x":"independent","y":"independent","color":"independent","shape":"independent"},"legend":{"color":"independent","shape":"independent"}},
  "vconcat":[
  {
   "data":{"name":"C"},
   "width":1955.6,"height":911.1,
   "title":{"text":"C","anchor":"start","frame":"group","align":"right","baseline":"alphabetic","offset":0,"dx":-36,"dy":61,"fontSize":76},
   "layer":[
    {"transform":[{"filter":"isValid(datum.m)"}],
     "mark":{"type":"rule","strokeWidth":1.4},
     "encoding":{
      "x":{"field":"g","type":"nominal","scale":{"type":"point","domain":["Terrestrial","0.25 bd","0.75 bd","1 bd","2 bd","3 bd"],"padding":0.6},"axis":{"title":null,"labelFontSize":55,"labelBaseline":"alphabetic","labelPadding":63,"labelAngle":0,"tickSize":5}},
      "y":{"field":"lo","type":"quantitative","scale":{"domain":[17.63,86.15],"nice":false,"zero":false},"axis":{"values":[20,40,60,80],"title":"Head-Tail Distance (mm)","titleFontSize":83,"titleX":-107,"titleBaseline":"alphabetic","titleAngle":-90,"titleAlign":"center","labelFontSize":63,"labelPadding":9}},"y2":{"field":"hi"},
      "color":{"field":"g","type":"nominal","scale":{"domain":["Terrestrial","0.25 bd","0.75 bd","1 bd","2 bd","3 bd"],"range":["#1A1A1A","#7F7F7F","#BEBEBE","#00FFFF","#0080FF","#0000FF"]},"legend":null}}},
    {"transform":[{"filter":"isValid(datum.m)"}],
     "mark":{"type":"tick","orient":"horizontal","size":78,"thickness":1.4},
     "encoding":{
      "x":{"field":"g","type":"nominal","scale":{"type":"point","domain":["Terrestrial","0.25 bd","0.75 bd","1 bd","2 bd","3 bd"],"padding":0.6},"axis":{"title":null,"labelFontSize":55,"labelBaseline":"alphabetic","labelPadding":63,"labelAngle":0,"tickSize":5}},
      "y":{"field":"lo","type":"quantitative","scale":{"domain":[17.63,86.15],"nice":false,"zero":false},"axis":{"values":[20,40,60,80],"title":"Head-Tail Distance (mm)","titleFontSize":83,"titleX":-107,"titleBaseline":"alphabetic","titleAngle":-90,"titleAlign":"center","labelFontSize":63,"labelPadding":9}},
      "color":{"field":"g","type":"nominal","scale":{"domain":["Terrestrial","0.25 bd","0.75 bd","1 bd","2 bd","3 bd"],"range":["#1A1A1A","#7F7F7F","#BEBEBE","#00FFFF","#0080FF","#0000FF"]},"legend":null}}},
    {"transform":[{"filter":"isValid(datum.m)"}],
     "mark":{"type":"tick","orient":"horizontal","size":78,"thickness":1.4},
     "encoding":{
      "x":{"field":"g","type":"nominal","scale":{"type":"point","domain":["Terrestrial","0.25 bd","0.75 bd","1 bd","2 bd","3 bd"],"padding":0.6},"axis":{"title":null,"labelFontSize":55,"labelBaseline":"alphabetic","labelPadding":63,"labelAngle":0,"tickSize":5}},
      "y":{"field":"hi","type":"quantitative","scale":{"domain":[17.63,86.15],"nice":false,"zero":false},"axis":{"values":[20,40,60,80],"title":"Head-Tail Distance (mm)","titleFontSize":83,"titleX":-107,"titleBaseline":"alphabetic","titleAngle":-90,"titleAlign":"center","labelFontSize":63,"labelPadding":9}},
      "color":{"field":"g","type":"nominal","scale":{"domain":["Terrestrial","0.25 bd","0.75 bd","1 bd","2 bd","3 bd"],"range":["#1A1A1A","#7F7F7F","#BEBEBE","#00FFFF","#0080FF","#0000FF"]},"legend":null}}},
    {"transform":[{"filter":"isValid(datum.m)"}],
     "mark":{"type":"tick","orient":"horizontal","size":234,"thickness":2.2},
     "encoding":{
      "x":{"field":"g","type":"nominal","scale":{"type":"point","domain":["Terrestrial","0.25 bd","0.75 bd","1 bd","2 bd","3 bd"],"padding":0.6},"axis":{"title":null,"labelFontSize":55,"labelBaseline":"alphabetic","labelPadding":63,"labelAngle":0,"tickSize":5}},
      "y":{"field":"m","type":"quantitative","scale":{"domain":[17.63,86.15],"nice":false,"zero":false},"axis":{"values":[20,40,60,80],"title":"Head-Tail Distance (mm)","titleFontSize":83,"titleX":-107,"titleBaseline":"alphabetic","titleAngle":-90,"titleAlign":"center","labelFontSize":63,"labelPadding":9}},
      "color":{"field":"g","type":"nominal","scale":{"domain":["Terrestrial","0.25 bd","0.75 bd","1 bd","2 bd","3 bd"],"range":["#1A1A1A","#7F7F7F","#BEBEBE","#00FFFF","#0080FF","#0000FF"]},"legend":null}}},
    {"transform":[{"filter":"isValid(datum.v)"}],
     "mark":{"type":"circle","size":500,"opacity":1},
     "encoding":{
      "x":{"field":"g","type":"nominal","scale":{"type":"point","domain":["Terrestrial","0.25 bd","0.75 bd","1 bd","2 bd","3 bd"],"padding":0.6},"axis":{"title":null,"labelFontSize":55,"labelBaseline":"alphabetic","labelPadding":63,"labelAngle":0,"tickSize":5}},
      "y":{"field":"v","type":"quantitative","scale":{"domain":[17.63,86.15],"nice":false,"zero":false},"axis":{"values":[20,40,60,80],"title":"Head-Tail Distance (mm)","titleFontSize":83,"titleX":-107,"titleBaseline":"alphabetic","titleAngle":-90,"titleAlign":"center","labelFontSize":63,"labelPadding":9}},
      "color":{"field":"g","type":"nominal","scale":{"domain":["Terrestrial","0.25 bd","0.75 bd","1 bd","2 bd","3 bd"],"range":["#1A1A1A","#7F7F7F","#BEBEBE","#00FFFF","#0080FF","#0000FF"]},"legend":null}}}
   ]
  },
  {
   "data":{"name":"D"},
   "width":1877,"height":897.2,
   "title":{"text":"D","anchor":"start","frame":"group","align":"right","baseline":"alphabetic","offset":0,"dx":-33,"dy":87,"fontSize":73},
   "resolve":{"scale":{"y":"independent"}},
   "layer":[
    {"mark":{"type":"point","filled":true,"size":1760,"opacity":1},
     "encoding":{
      "x":{"field":"g","type":"nominal","scale":{"type":"point","domain":["Terrestrial","0.25 bd","0.75 bd","1 bd","2 bd","3 bd"],"padding":0.5868,"align":0.484},"axis":{"title":null,"labelFontSize":53,"labelBaseline":"alphabetic","labelPadding":55,"labelAngle":0,"tickSize":5}},
      "y":{"field":"f","type":"quantitative","scale":{"domain":[0.97,6.562],"nice":false,"zero":false},"axis":{"values":[1,2,3,4,5,6],"title":"Tail Frequency (cycles/s)","titleFontSize":83,"titleX":-88,"titleBaseline":"alphabetic","titleAngle":-90,"titleAlign":"center","labelFontSize":56,"labelPadding":17}},
      "color":{"field":"g","type":"nominal","scale":{"domain":["Terrestrial","0.25 bd","0.75 bd","1 bd","2 bd","3 bd"],"range":["#1A1A1A","#7F7F7F","#BEBEBE","#00FFFF","#0080FF","#0000FF"]},"legend":null},
      "shape":{"datum":"Tail Frequency","scale":{"domain":["Tail Frequency","Fish Speed"],"range":["circle","triangle-up"]},
       "legend":{"orient":"none","legendX":47.9,"legendY":35.8,"title":null,"symbolSize":2400,"symbolFillColor":"#000000","symbolStrokeWidth":0,"symbolOpacity":1,"labelFontSize":62,"rowPadding":0,"labelOffset":2.7,"labelLimit":2000}}}},
    {"mark":{"type":"point","filled":true,"size":3181,"opacity":1},
     "encoding":{
      "x":{"field":"g","type":"nominal","scale":{"type":"point","domain":["Terrestrial","0.25 bd","0.75 bd","1 bd","2 bd","3 bd"],"padding":0.5868,"align":0.484},"axis":{"title":null,"labelFontSize":53,"labelBaseline":"alphabetic","labelPadding":55,"labelAngle":0,"tickSize":5}},
      "y":{"field":"sp","type":"quantitative","scale":{"domain":[0.97,6.562],"nice":false,"zero":false},"axis":{"orient":"right","values":[1,2,3,4,5,6],"title":"Fish Speed (cm/s)","titleFontSize":81,"titleX":72.5,"titleBaseline":"alphabetic","titleAngle":90,"titleAlign":"center","labelFontSize":56,"labelPadding":3.7}},
      "color":{"field":"g","type":"nominal","scale":{"domain":["Terrestrial","0.25 bd","0.75 bd","1 bd","2 bd","3 bd"],"range":["#1A1A1A","#7F7F7F","#BEBEBE","#00FFFF","#0080FF","#0000FF"]},"legend":null},
      "shape":{"datum":"Fish Speed","scale":{"domain":["Tail Frequency","Fish Speed"],"range":["circle","triangle-up"]},
       "legend":{"orient":"none","legendX":47.9,"legendY":35.8,"title":null,"symbolSize":2400,"symbolFillColor":"#000000","symbolStrokeWidth":0,"symbolOpacity":1,"labelFontSize":62,"rowPadding":0,"labelOffset":2.7,"labelLimit":2000}}}}
   ]
  }
  ]
 }
 ]
}
]
}
